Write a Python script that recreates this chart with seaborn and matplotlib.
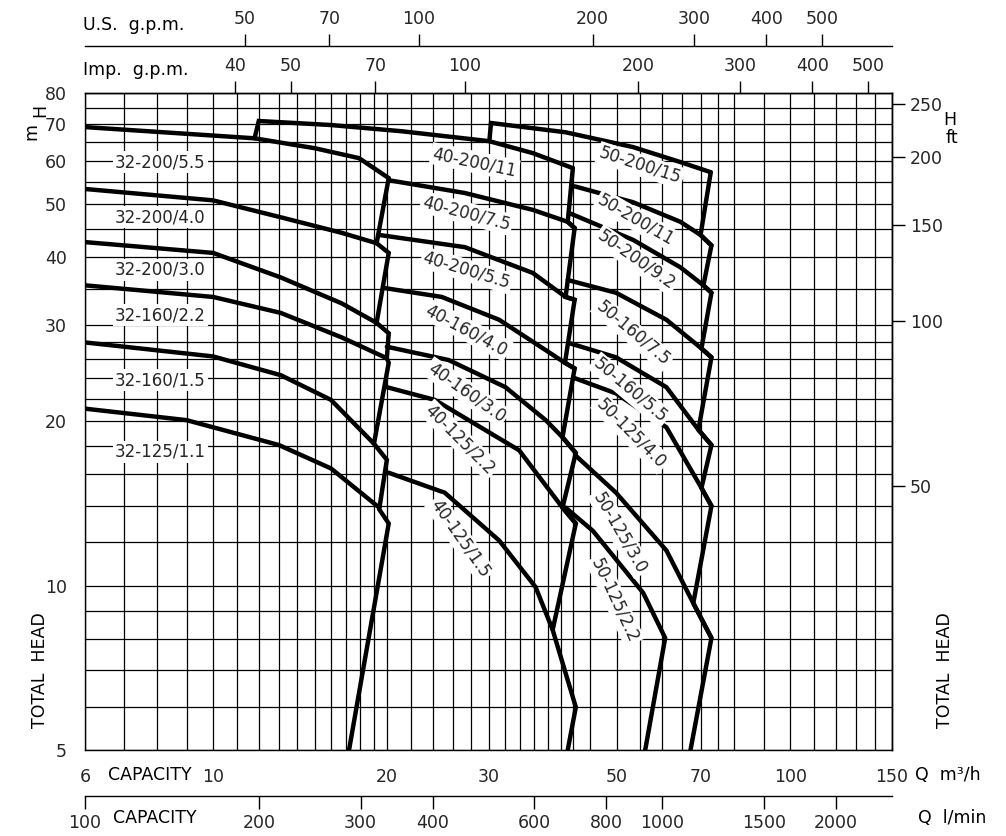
import numpy as np
import matplotlib
matplotlib.use("Agg")
import matplotlib.pyplot as plt
import seaborn as sns

# pump curves, Q in m3/h and H in m
q_32_200_55 = [6, 11.8, 15.0, 17.9, 20.15]
h_32_200_55 = [69.2, 66.0, 63.3, 60.7, 55.8]
q_32_200_40 = [6, 10.0, 13.1, 16.7, 19.2]
h_32_200_40 = [53.3, 50.8, 47.3, 44.3, 42.4]
q_32_200_30 = [6, 10.0, 13.1, 16.7, 19.2]
h_32_200_30 = [42.6, 40.7, 36.7, 32.9, 30.3]
q_32_160_22 = [6, 10.0, 13.1, 16.7, 20.0]
h_32_160_22 = [35.5, 33.8, 31.6, 28.5, 26.1]
q_32_160_15 = [6, 10.0, 13.1, 16.0, 19.0]
h_32_160_15 = [27.9, 26.3, 24.3, 21.9, 18.2]
q_32_125_11 = [6, 9.0, 13.0, 16.0, 19.4]
h_32_125_11 = [21.1, 20.1, 18.1, 16.4, 13.9]
q_edge_1 = [20.15, 19.2, 20.15, 19.2, 20.15, 20.0, 20.15, 19.0, 20.0, 19.4, 20.15, 17.2]
h_edge_1 = [55.8, 42.4, 40.7, 30.3, 29.0, 26.1, 25.6, 18.2, 17.0, 13.8, 13.0, 5.0]

q_40_200_11 = [11.8, 12.0, 16.0, 21.2, 30.1, 35.8, 42.0]
h_40_200_11 = [66.0, 71.0, 69.8, 68.0, 65.2, 62.0, 58.2]
q_40_200_75 = [20.15, 27.3, 35.8, 41.15, 42.3]
h_40_200_75 = [55.3, 52.4, 48.8, 46.4, 45.2]
q_40_200_55 = [19.4, 27.3, 35.8, 40.8, 42.3]
h_40_200_55 = [43.9, 41.7, 37.4, 33.8, 33.4]
q_40_160_40 = [19.8, 24.9, 31.3, 37.7, 40.7, 42.3]
h_40_160_40 = [35.1, 33.8, 30.7, 27.0, 25.6, 25.0]
q_40_160_30 = [20.0, 25.6, 32.1, 37.7, 40.3, 42.5]
h_40_160_30 = [27.4, 25.9, 23.1, 20.1, 18.7, 17.5]
q_40_125_22 = [20.0, 24.2, 33.9, 40.3, 42.5]
h_40_125_22 = [23.1, 21.9, 17.7, 13.9, 13.0]
q_40_125_15 = [20.15, 25.2, 31.3, 36.2, 38.75, 42.5, 41.15]
h_40_125_15 = [16.1, 14.8, 12.1, 9.94, 8.30, 5.99, 5.0]
q_edge_2 = [42.0, 41.15, 42.3, 40.8, 42.3, 40.7, 42.3, 40.3, 42.5, 40.3, 42.5, 38.75]
h_edge_2 = [58.2, 46.4, 45.2, 33.8, 33.4, 25.6, 25.0, 18.7, 17.5, 13.9, 13.0, 8.30]

q_50_200_15 = [30.1, 30.3, 40.8, 53.4, 64.5, 72.8]
h_50_200_15 = [65.2, 70.4, 67.7, 63.6, 59.7, 57.2]
q_50_200_11 = [42.3, 53.4, 64.5, 69.9, 73.0]
h_50_200_11 = [53.9, 50.4, 46.4, 43.9, 42.0]
q_50_200_92 = [41.5, 53.4, 64.5, 70.7, 73.0]
h_50_200_92 = [48.1, 43.0, 38.3, 35.5, 34.4]
q_50_160_75 = [41.15, 49.9, 61.0, 70.15, 73.0]
h_50_160_75 = [36.3, 34.4, 30.7, 27.2, 26.2]
q_50_160_55 = [41.5, 49.9, 61.0, 69.3, 73.0]
h_50_160_55 = [27.8, 26.2, 23.1, 19.3, 18.1]
q_50_125_40 = [42.3, 49.9, 61.0, 70.15, 73.0]
h_50_125_40 = [24.0, 22.5, 19.5, 15.1, 14.0]
q_50_125_30 = [42.5, 49.9, 61.0, 67.9, 73.0]
h_50_125_30 = [17.3, 14.8, 11.6, 9.29, 8.02]
q_50_125_22 = [40.8, 45.5, 55.6, 60.7, 56.05]
h_50_125_22 = [13.9, 12.6, 9.70, 8.02, 5.0]
q_edge_3 = [72.8, 69.9, 73.0, 70.7, 73.0, 70.15, 73.0, 69.3, 73.0, 70.15, 73.0, 67.9, 73.0, 67.15]
h_edge_3 = [57.2, 43.9, 42.0, 35.5, 34.4, 27.2, 26.2, 19.3, 18.1, 15.1, 14.0, 9.29, 8.02, 5.0]

curves = [
    (q_32_200_55, h_32_200_55), (q_32_200_40, h_32_200_40), (q_32_200_30, h_32_200_30),
    (q_32_160_22, h_32_160_22), (q_32_160_15, h_32_160_15), (q_32_125_11, h_32_125_11),
    (q_edge_1, h_edge_1),
    (q_40_200_11, h_40_200_11), (q_40_200_75, h_40_200_75), (q_40_200_55, h_40_200_55),
    (q_40_160_40, h_40_160_40), (q_40_160_30, h_40_160_30), (q_40_125_22, h_40_125_22),
    (q_40_125_15, h_40_125_15), (q_edge_2, h_edge_2),
    (q_50_200_15, h_50_200_15), (q_50_200_11, h_50_200_11), (q_50_200_92, h_50_200_92),
    (q_50_160_75, h_50_160_75), (q_50_160_55, h_50_160_55), (q_50_125_40, h_50_125_40),
    (q_50_125_30, h_50_125_30), (q_50_125_22, h_50_125_22), (q_edge_3, h_edge_3),
]

# curve labels: text, Q, H, rotation
labels = [
    ("32-200/5.5", 8.1, 59.7, 0), ("32-200/4.0", 8.1, 47.3, 0), ("32-200/3.0", 8.1, 37.9, 0),
    ("32-160/2.2", 8.1, 31.3, 0), ("32-160/1.5", 8.1, 23.8, 0), ("32-125/1.1", 8.1, 17.6, 0),
    ("40-200/11", 28.4, 59.7, -12), ("40-200/7.5", 27.5, 48.1, -15), ("40-200/5.5", 27.5, 37.8, -17),
    ("40-160/4.0", 27.5, 29.4, -28), ("40-160/3.0", 27.5, 22.6, -35), ("40-125/2.2", 26.8, 18.5, -45),
    ("40-125/1.5", 26.8, 12.2, -55),
    ("50-200/15", 55.0, 58.9, -18), ("50-200/11", 54.1, 46.8, -30), ("50-200/9.2", 54.1, 39.5, -35),
    ("50-160/7.5", 53.4, 29.0, -40), ("50-160/5.5", 52.8, 22.8, -40), ("50-125/4.0", 53.0, 19.0, -45),
    ("50-125/3.0", 50.7, 12.5, -60), ("50-125/2.2", 49.7, 9.41, -65),
]

q_ticks = [6, 10, 20, 30, 50, 70, 100, 150]
q_grid = list(range(6, 20)) + list(range(20, 44, 2)) + [45, 50, 55, 60, 65, 70, 75, 80, 90, 100, 110, 120, 130, 140, 150]
h_ticks = [5, 10, 20, 30, 40, 50, 60, 70, 80]
h_grid = [5, 6, 7, 8, 9, 10, 12, 14, 16, 18, 20, 22, 24, 26, 28, 30, 35, 40, 45, 50, 55, 60, 65, 70, 75, 80]
lmin_ticks = [100, 200, 300, 400, 600, 800, 1000, 1500, 2000, 2500]
usgpm_ticks = [50, 70, 100, 200, 300, 400, 500]
impgpm_ticks = [40, 50, 70, 100, 200, 300, 400, 500]
ft_ticks = [50, 100, 150, 200, 250]

sns.set_style("white")
plt.rcParams['font.family'] = ['DejaVu Sans']

fig = plt.figure(figsize=(10.06, 8.36), dpi=100)
ax = fig.add_axes([85 / 1006, 86 / 836, 807 / 1006, 657.3 / 836])
ax.set_xscale('log')
ax.set_yscale('log')
ax.set_xlim(6, 150)
ax.set_ylim(5, 80)

for q, h in curves:
    sns.lineplot(x=q, y=h, sort=False, estimator=None, color='black', lw=3.2, ax=ax,
                 solid_joinstyle='miter', zorder=3)

for text, q, h, rot in labels:
    ax.text(q, h, text, rotation=rot, rotation_mode='anchor', ha='center', va='center',
            fontsize=12, zorder=4,
            bbox=dict(facecolor='white', edgecolor='none', pad=1.5))

ax.set_xticks(q_ticks)
ax.set_xticklabels([str(v) for v in q_ticks])
ax.set_xticks(q_grid, minor=True)
ax.set_xticklabels([], minor=True)
ax.set_yticks(h_ticks)
ax.set_yticklabels([str(v) for v in h_ticks])
ax.set_yticks(h_grid, minor=True)
ax.set_yticklabels([], minor=True)
ax.tick_params(which='major', direction='out', length=9, width=1, color='black',
               labelsize=12.5, pad=4)
ax.tick_params(which='minor', length=0)
ax.grid(which='both', color='black', lw=0.9)
for s in ax.spines.values():
    s.set_color('black')
    s.set_linewidth(1)

# extra scales
def to_lmin(q): return q * 16.66
def from_lmin(v): return v / 16.66
def to_us(q): return q * 4.403
def from_us(v): return v / 4.403
def to_imp(q): return q * 3.666
def from_imp(v): return v / 3.666
def to_ft(h): return h * 3.281
def from_ft(v): return v / 3.281

sec_l = ax.secondary_xaxis(-0.07, functions=(to_lmin, from_lmin))
sec_l.set_xticks(lmin_ticks)
sec_l.set_xticklabels([str(v) for v in lmin_ticks])
sec_l.xaxis.set_minor_locator(matplotlib.ticker.NullLocator())

sec_imp = ax.secondary_xaxis('top', functions=(to_imp, from_imp))
sec_imp.set_xticks(impgpm_ticks)
sec_imp.set_xticklabels([str(v) for v in impgpm_ticks])
sec_imp.xaxis.set_minor_locator(matplotlib.ticker.NullLocator())

sec_us = ax.secondary_xaxis(1.071, functions=(to_us, from_us))
sec_us.set_xticks(usgpm_ticks)
sec_us.set_xticklabels([str(v) for v in usgpm_ticks])
sec_us.xaxis.set_minor_locator(matplotlib.ticker.NullLocator())

sec_ft = ax.secondary_yaxis('right', functions=(to_ft, from_ft))
sec_ft.set_yticks(ft_ticks)
sec_ft.set_yticklabels([str(v) for v in ft_ticks])
sec_ft.yaxis.set_minor_locator(matplotlib.ticker.NullLocator())

for sec in (sec_l, sec_imp, sec_us, sec_ft):
    sec.tick_params(which='major', direction='out', length=9, width=1, color='black',
                    labelsize=12.5, pad=4)
    for s in sec.spines.values():
        s.set_color('black')
        s.set_linewidth(1)

txt = dict(fontsize=12.5, color='black')
fig.text(83 / 1006, 1 - 25 / 836, "U.S.  g.p.m.", va='center', ha='left', **txt)
fig.text(83 / 1006, 1 - 70 / 836, "Imp.  g.p.m.", va='center', ha='left', **txt)
fig.text(150 / 1006, 1 - 775 / 836, "CAPACITY", va='center', ha='center', **txt)
fig.text(155 / 1006, 1 - 818 / 836, "CAPACITY", va='center', ha='center', **txt)
fig.text(915 / 1006, 1 - 775 / 836, "Q  m³/h", va='center', ha='left', **txt)
fig.text(918 / 1006, 1 - 818 / 836, "Q  l/min", va='center', ha='left', **txt)
fig.text(40 / 1006, 1 - 110 / 836, "H", va='center', ha='center', rotation=90, **txt)
fig.text(31 / 1006, 1 - 131 / 836, "m", va='center', ha='center', rotation=90, **txt)
fig.text(950 / 1006, 1 - 120 / 836, "H", va='center', ha='center', **txt)
fig.text(952 / 1006, 1 - 138 / 836, "ft", va='center', ha='center', **txt)
fig.text(40 / 1006, 1 - 670 / 836, "TOTAL  HEAD", va='center', ha='center', rotation=90, **txt)
fig.text(945 / 1006, 1 - 670 / 836, "TOTAL  HEAD", va='center', ha='center', rotation=90, **txt)

fig.savefig("out.png", dpi=100, facecolor='white')
